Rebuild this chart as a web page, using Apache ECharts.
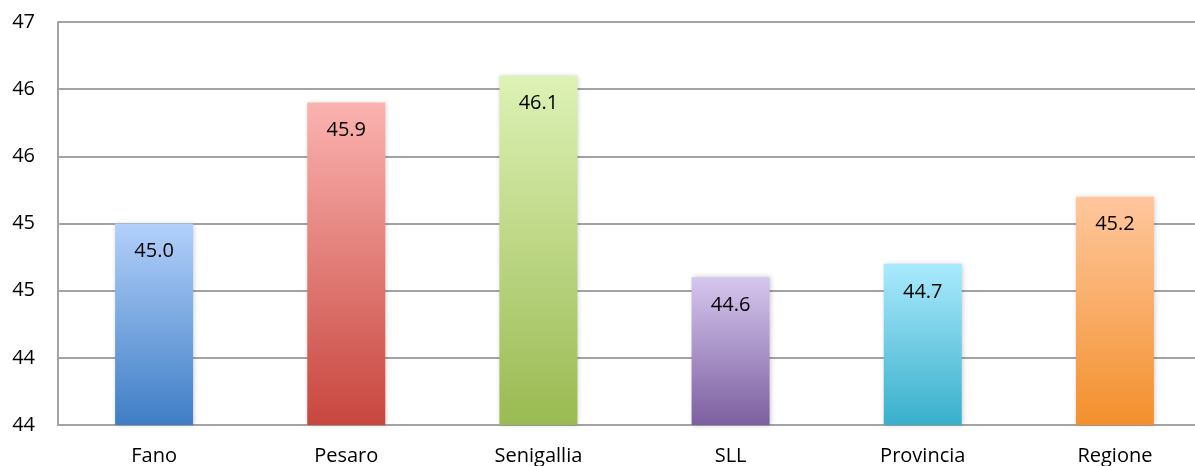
<!DOCTYPE html>
<html>
<head>
<meta charset="utf-8">
<script src="https://cdn.jsdelivr.net/npm/echarts@6/dist/echarts.min.js"></script>
<style>
  html, body { margin: 0; padding: 0; background: #ffffff; overflow: hidden; width: 1195px; height: 466px; }
  /* plot area runs slightly past the right edge of the page */
  #chart { width: 1211px; height: 466px; }
</style>
</head>
<body>
<div id="chart"></div>
<script>
// Areas compared
const categories = ['Fano', 'Pesaro', 'Senigallia', 'SLL', 'Provincia', 'Regione'];
// Mean values shown above each area
const values = [45.0, 45.9, 46.1, 44.6, 44.7, 45.2];
// Gradient stops per bar: [top colour, bottom colour]
const barColors = [
  ['#b3d0fa', '#3e7ec6'],
  ['#fbb3b0', '#c8463e'],
  ['#ddf2b5', '#9aba52'],
  ['#d6c7ee', '#7c5fa0'],
  ['#aaeafd', '#38afcb'],
  ['#ffc79d', '#f3902d']
];
// Value axis range
const yMin = 43.5, yMax = 46.5, yStep = 0.5;

const fontFamily = "'Open Sans', 'Noto Sans', sans-serif";

const chart = echarts.init(document.getElementById('chart'), null, { renderer: 'canvas' });

chart.setOption({
  animation: false,
  backgroundColor: '#ffffff',
  grid: { left: 58, right: 0, top: 22, bottom: 39, containLabel: false },
  xAxis: {
    type: 'category',
    data: categories,
    axisLine: { show: true, lineStyle: { color: '#a3a3a3', width: 2 } },
    axisTick: { show: false },
    axisLabel: { color: '#000000', fontSize: 20, fontFamily: fontFamily, margin: 21 }
  },
  yAxis: {
    type: 'value',
    min: yMin,
    max: yMax,
    interval: yStep,
    axisLine: { show: true, lineStyle: { color: '#a3a3a3', width: 2 } },
    axisTick: { show: false },
    splitLine: { show: true, lineStyle: { color: '#a3a3a3', width: 2 } },
    axisLabel: {
      color: '#000000',
      fontSize: 20,
      fontFamily: fontFamily,
      margin: 23,
      formatter: v => String(Math.round(v))
    }
  },
  series: [{
    type: 'bar',
    barWidth: 78,
    data: values.map((v, i) => ({
      value: v,
      itemStyle: {
        color: new echarts.graphic.LinearGradient(0, 0, 0, 1, [
          { offset: 0, color: barColors[i][0] },
          { offset: 1, color: barColors[i][1] }
        ]),
        shadowBlur: 5,
        shadowColor: 'rgba(0,0,0,0.22)',
        shadowOffsetX: 1,
        shadowOffsetY: 0
      }
    })),
    label: {
      show: true,
      position: 'insideTop',
      distance: 18,
      color: '#000000',
      fontSize: 20,
      fontFamily: fontFamily,
      formatter: p => p.value.toFixed(1)
    }
  }]
});
</script>
</body>
</html>
